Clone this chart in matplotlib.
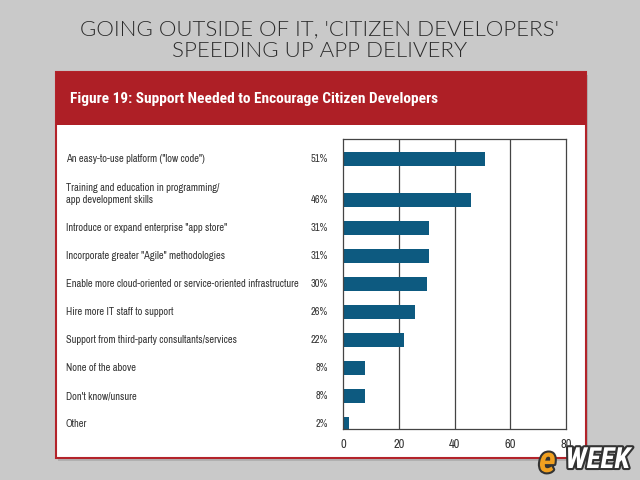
import matplotlib
matplotlib.use("Agg")
import matplotlib.pyplot as plt
from matplotlib import font_manager as fm
from matplotlib.patches import Rectangle
from matplotlib.transforms import blended_transform_factory
import matplotlib.patheffects as pe

categories = [
    'An easy-to-use platform ("low code")',
    'Training and education in programming/\napp development skills',
    'Introduce or expand enterprise "app store"',
    'Incorporate greater "Agile" methodologies',
    'Enable more cloud-oriented or service-oriented infrastructure',
    'Hire more IT staff to support',
    'Support from third-party consultants/services',
    'None of the above',
    "Don't know/unsure",
    'Other',
]
values = [51, 46, 31, 31, 30, 26, 22, 8, 8, 2]
xticks = [0, 20, 40, 60, 80]

title = "GOING OUTSIDE OF IT, 'CITIZEN DEVELOPERS'\nSPEEDING UP APP DELIVERY"
header = "Figure 19: Support Needed to Encourage Citizen Developers"

weights = {}
for f in fm.fontManager.ttflist:
    w = f.weight if isinstance(f.weight, int) else fm.weight_dict.get(f.weight, 400)
    weights.setdefault(f.name, set()).add(w)

def pick(cands, need=None):
    for c in cands:
        if c in weights and (need is None or any(need[0] <= w <= need[1] for w in weights[c])):
            return [c, 'DejaVu Sans']
    return ['DejaVu Sans']

NARROW = pick(['Liberation Sans Narrow', 'Arial Narrow', 'Archivo Narrow', 'Roboto Condensed',
               'PT Sans Narrow', 'Encode Sans Condensed'])
NARROW_B = pick(['Liberation Sans Narrow', 'Arial Narrow', 'Archivo Narrow', 'Roboto Condensed',
                 'PT Sans Narrow', 'Encode Sans Condensed', 'Fira Sans Condensed',
                 'Barlow Semi Condensed'], need=(700, 700))
TITLE_LIGHT = pick(['Raleway', 'Lato', 'Open Sans'], need=(300, 300))
if TITLE_LIGHT[0] != 'DejaVu Sans':
    TITLEF, TITLEW = TITLE_LIGHT, 300
else:
    TITLEF, TITLEW = pick(['Raleway', 'Lato', 'Open Sans'], need=(350, 450)), 400

W, H = 640, 480
fig = plt.figure(figsize=(6.4, 4.8), dpi=100)
fig.patch.set_facecolor('#c9c9c9')

def fx(px):
    return px / W

def fy(py):
    return 1 - py / H

# card shadow + card
fig.patches.append(Rectangle((fx(58), fy(461)), fx(530), 386 / H, transform=fig.transFigure,
                             facecolor='#b0b0b0', edgecolor='none', zorder=0))
fig.patches.append(Rectangle((fx(56), fy(458)), fx(530), 386 / H, transform=fig.transFigure,
                             facecolor='white', edgecolor='#b3232a', linewidth=1.5, zorder=1))
fig.patches.append(Rectangle((fx(56), fy(125)), fx(530), 53 / H, transform=fig.transFigure,
                             facecolor='#ae1f26', edgecolor='none', zorder=2))

fig.text(0.5, fy(40), title, ha='center', va='center', fontsize=16, color='#2a2a2a',
         family=TITLEF, fontweight=TITLEW, linespacing=1.1)
fig.text(fx(70), fy(99), header, ha='left', va='center', fontsize=11.1, color='white',
         family=NARROW_B, fontweight=700, zorder=3)

# axes
ax = fig.add_axes([fx(343), fy(429), fx(566 - 343), (429 - 139) / H])
ax.set_zorder(3)

# row positions (pixel-like units): extra space for multi-line labels
ypos = []
y = 159
for i, c in enumerate(categories):
    nlines = c.count('\n') + 1
    if i > 0:
        y += 28 + 13 * (nlines - 1)
    ypos.append(y)

ax.barh(ypos, values, height=14, color='#0d5a80', zorder=2)
ax.set_xlim(0, 80)
ax.set_ylim(429, 139)
ax.set_xticks(xticks)
ax.set_xticklabels([str(t) for t in xticks], family=NARROW, fontsize=9, color='#333333')
ax.set_yticks([])
ax.tick_params(axis='x', length=0, pad=7)
for t in [20, 40, 60]:
    ax.axvline(t, color='#444444', linewidth=0.9, zorder=1)
for s in ax.spines.values():
    s.set_color('#444444')
    s.set_linewidth(0.9)

tr = blended_transform_factory(fig.transFigure, ax.transData)
for c, v, yy in zip(categories, values, ypos):
    lines = c.split('\n')
    for k, line in enumerate(reversed(lines)):
        ax.text(fx(66), yy - 12 * k, line, transform=tr, ha='left', va='center',
                fontsize=7.5, color='#333333', family=NARROW, clip_on=False)
    ax.text(fx(328), yy, f"{v}%", transform=tr, ha='right', va='center',
            fontsize=7.5, color='#333333', family=NARROW, clip_on=False)

# logo
logo = fig.text(fx(630), fy(460), "WEEK", ha='right', va='center', fontsize=21,
                color='white', fontweight=700, style='italic', family=NARROW_B,
                zorder=5)
logo.set_path_effects([pe.withStroke(linewidth=3, foreground='#333333')])
e = fig.text(fx(539), fy(462), "e", ha='left', va='center', fontsize=26,
             color='#f0a020', fontweight=700, style='italic', family=NARROW_B,
             zorder=6)
e.set_path_effects([pe.withStroke(linewidth=3, foreground='#333333')])

fig.savefig('out.png', dpi=100, facecolor=fig.get_facecolor())
